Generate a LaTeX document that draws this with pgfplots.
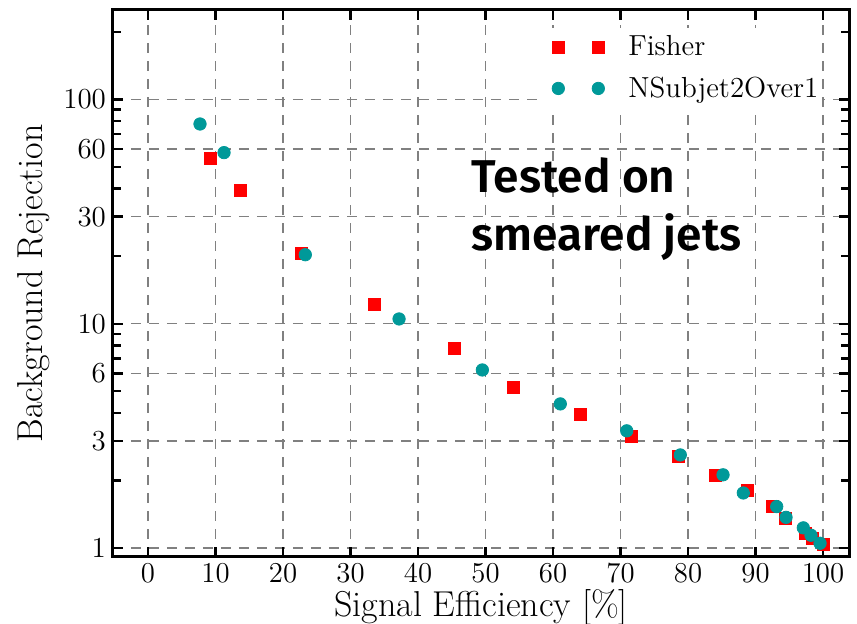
\documentclass[border=0pt]{standalone}
\usepackage{fontspec}
\usepackage{pgfplots}
\pgfplotsset{compat=1.18}
\newfontfamily\annfont{Fira Sans SemiBold}
\definecolor{fishred}{rgb}{1,0,0}
\definecolor{nsteal}{rgb}{0,0.6,0.6}
\begin{document}
\begin{tikzpicture}
\useasboundingbox (-56.5pt,-33.5pt) rectangle (372pt,278.5pt);
\begin{axis}[
  at={(0pt,0pt)}, anchor=south west,
  scale only axis, width=368pt, height=273.5pt,
  xmin=-5.19, xmax=103.85,
  ymode=log, ymin=0.912, ymax=250.4,
  xtick={0,10,20,30,40,50,60,70,80,90,100},
  ytick={1,3,6,10,30,60,100},
  yticklabels={1,3,6,10,30,60,100},
  minor ytick={2,4,5,7,8,9,20,40,50,70,80,90,200},
  grid=major,
  major grid style={black!50, dash pattern=on 5pt off 4pt, line width=0.75pt},
  axis line style={line width=1.5pt},
  every tick/.style={black, line width=1.2pt},
  major tick length=5pt, minor tick length=4pt,
  tick label style={font=\fontsize{14.5}{16}\selectfont},
  label style={font=\fontsize{18}{21}\selectfont},
  xlabel={Signal Efficiency [\%]},
  xlabel style={yshift=3.5pt},
  ylabel={Background Rejection},
  legend cell align=left,
  legend style={at={(0.5855,0.9685)}, anchor=north west, fill=white, draw=none,
    inner xsep=0pt, inner ysep=2pt, row sep=5pt,
    font=\fontsize{14.5}{16}\selectfont},
  legend image code/.code={\path[draw=none,fill=none] (-7pt,-4pt) rectangle (33pt,4pt);
    \draw[mark repeat=1,mark phase=1] plot coordinates {(0pt,0pt) (20pt,0pt)};},
]
\addplot[only marks, mark=square*, mark size=3pt, color=fishred, mark options={draw=fishred, fill=fishred}] coordinates {
(9.29,54.6) (13.67,39.1) (22.67,20.5) (33.48,12.2) (45.44,7.79) (54.12,5.22)
(64.1,3.95) (71.6,3.13) (78.62,2.56) (84.04,2.11) (88.74,1.80) (92.49,1.53)
(94.47,1.35) (97.33,1.16) (98.47,1.10) (100.04,1.04)
};
\addlegendentry{Fisher}
\addplot[only marks, mark=*, mark size=3.1pt, color=nsteal, mark options={draw=nsteal, fill=nsteal}] coordinates {
(7.70,77.7) (11.26,57.9) (23.3,20.3) (37.19,10.5) (49.53,6.22) (61.08,4.39)
(70.92,3.33) (78.86,2.60) (85.19,2.12) (88.19,1.76) (93.14,1.53) (94.52,1.37)
(97.08,1.23) (98.22,1.14) (99.56,1.05)
};
\addlegendentry{NSubjet2Over1}
\node[anchor=base west, inner sep=0pt, font=\fontsize{23}{28}\selectfont\annfont] at (rel axis cs:0.487,0.666) {Tested on};
\node[anchor=base west, inner sep=0pt, font=\fontsize{23}{28}\selectfont\annfont] at (rel axis cs:0.487,0.561) {smeared jets};
\end{axis}
\end{tikzpicture}
\end{document}
